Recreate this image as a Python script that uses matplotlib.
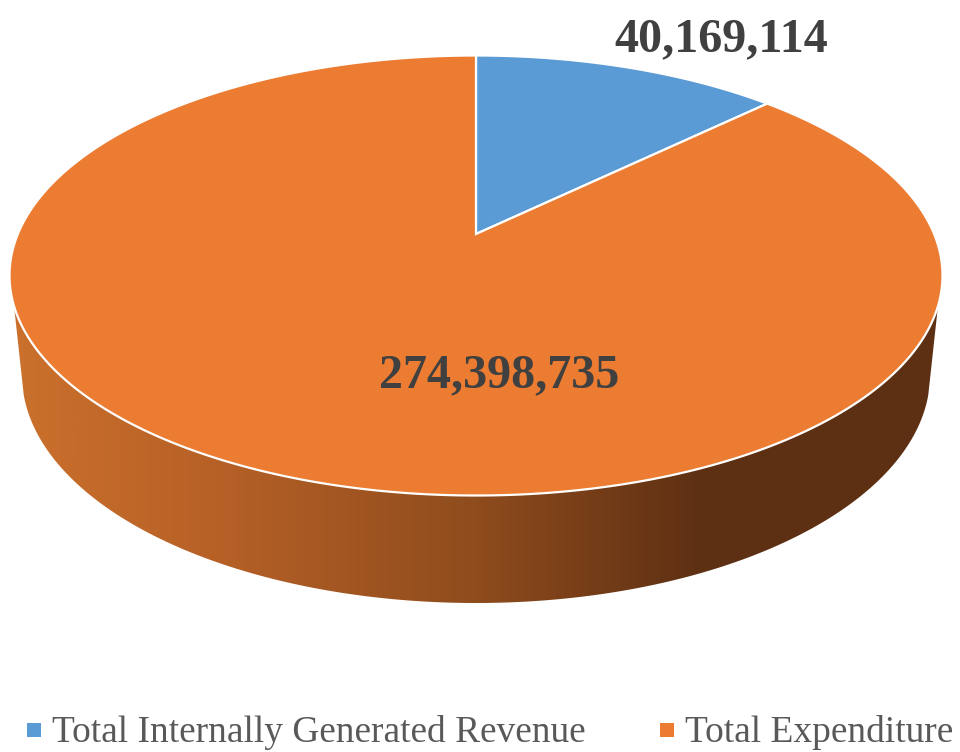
import numpy as np
import matplotlib
matplotlib.use("Agg")
import matplotlib.pyplot as plt
from matplotlib.colors import LinearSegmentedColormap
from matplotlib.patches import Polygon, Rectangle

categories = ["Total Internally Generated Revenue", "Total Expenditure"]
values = [40169114, 274398735]
value_labels = ["40,169,114", "274,398,735"]
colors = ["#5B9BD5", "#EB7C31"]
wall_colors = ["#CB712D", "#B96227", "#8F4C1D", "#5E3013", "#5E3013"]

plt.rcParams["font.family"] = ["Liberation Serif", "DejaVu Serif"]
W, H = 960, 752
fig = plt.figure(figsize=(W / 100, H / 100), dpi=100)
ax = fig.add_axes([0, 0, 1, 1])
ax.set_xlim(0, W)
ax.set_ylim(H, 0)
ax.axis("off")

CX, CY, RX, RY = 476.0, 275.5, 466.5, 220.0
APEX_Y = 234.0
k = (CY - APEX_Y) / RY
BCX, BCY, BRX, BRY = 476.0, 375.0, 454.0, 228.0


def project(theta):
    """Clockwise angle from top on the pie disc -> pixel position with perspective."""
    u, v = np.sin(theta), np.cos(theta)
    d = 1 + k * v
    return CX + RX * u * np.sqrt(1 - k**2) / d, CY - RY * (v + k) / d


# side wall
phi_top = np.radians(np.linspace(8, 172, 300))
phi_bot = np.radians(np.linspace(5, 175, 300))
top_x, top_y = CX + RX * np.cos(phi_top), CY + RY * np.sin(phi_top)
bot_x, bot_y = BCX + BRX * np.cos(phi_bot), BCY + BRY * np.sin(phi_bot)
wall = np.column_stack([np.r_[top_x, bot_x[::-1]], np.r_[top_y, bot_y[::-1]]])
clip = Polygon(wall, closed=True, transform=ax.transData, fc="none", ec="none")
ax.add_patch(clip)
cmap = LinearSegmentedColormap.from_list(
    "wall", list(zip([0, 0.2, 0.5, 0.74, 1], wall_colors)))
im = ax.imshow(np.linspace(0, 1, 512)[None, :], cmap=cmap, aspect="auto",
               extent=[10, 942, 610, 290], interpolation="bilinear", zorder=1)
im.set_clip_path(clip)
ax.set_xlim(0, W)
ax.set_ylim(H, 0)

# top face
fractions = np.array(values) / np.sum(values)
edges = np.r_[0, np.cumsum(fractions)] * 2 * np.pi
for i, c in enumerate(colors):
    th = np.linspace(edges[i], edges[i + 1], 600)
    x, y = project(th)
    ax.fill(np.r_[CX, x], np.r_[APEX_Y, y], fc=c, ec="white", lw=1.6,
            joinstyle="miter", zorder=2)

# data labels
ax.text(721.5, 39, value_labels[0], fontsize=34.6, fontweight="bold", color="#404040",
        ha="center", va="center", zorder=3)
ax.text(499, 375, value_labels[1], fontsize=34.6, fontweight="bold", color="#404040",
        ha="center", va="center", zorder=3)

# legend
legend_x = [(27, 52), (660, 685)]
for (sx, tx), c, name in zip(legend_x, colors, categories):
    ax.add_patch(Rectangle((sx, 723), 14, 14, fc=c, ec="none", zorder=3))
    ax.text(tx, 733, name, fontsize=26.9, color="#595959", ha="left", va="center", zorder=3)

fig.savefig("out.png", dpi=100)
